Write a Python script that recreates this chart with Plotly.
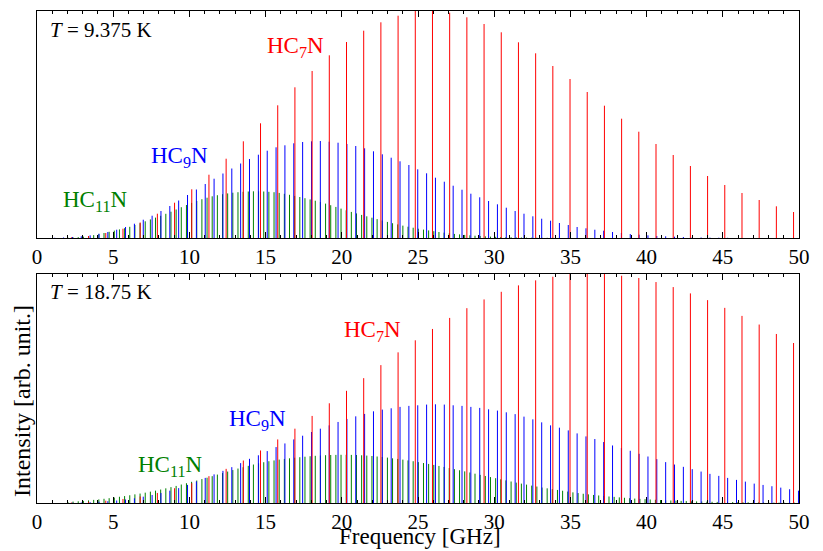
import plotly.graph_objects as go

# ---------------- data (line frequencies in GHz, intensities in arb. units) ----------------
HC7N_freq = [1.128, 2.257, 3.385, 4.513, 5.641, 6.770, 7.898, 9.026, 10.154, 11.283,
             12.411, 13.539, 14.667, 15.796, 16.924, 18.052, 19.180, 20.309, 21.437, 22.565,
             23.693, 24.822, 25.950, 27.078, 28.207, 29.335, 30.463, 31.591, 32.720, 33.848,
             34.976, 36.104, 37.233, 38.361, 39.489, 40.617, 41.746, 42.874, 44.002, 45.130,
             46.259, 47.387, 48.515, 49.643]
HC7N_T1 = [0.1, 0.7, 2.0, 5.0, 9.3, 15.5, 24.3, 35.3, 48.7, 63.3,
           79.3, 96.7, 114.7, 132.7, 150.7, 167.0, 182.7, 196.0, 207.3, 215.7,
           222.3, 228.5, 228.5, 225.3, 220.7, 214.0, 205.7, 195.7, 184.7, 172.0,
           159.0, 146.0, 132.3, 119.3, 106.3, 94.0, 83.0, 72.0, 62.0, 53.0,
           45.0, 38.0, 31.7, 26.0]
HC7N_T2 = [0.1, 0.5, 1.2, 2.3, 4.0, 6.5, 10.0, 14.7, 19.7, 26.7,
           34.0, 42.3, 52.3, 63.3, 74.0, 86.7, 99.3, 111.7, 124.3, 137.3,
           150.0, 162.0, 173.3, 184.3, 194.0, 202.7, 210.3, 216.7, 221.7, 225.3,
           228.5, 230.0, 229.5, 226.3, 224.0, 220.0, 215.0, 208.7, 202.0, 194.3,
           186.3, 177.7, 168.3, 159.3]

HC9N_freq = [0.581, 1.162, 1.743, 2.324, 2.905, 3.486, 4.067, 4.648, 5.229, 5.810,
             6.391, 6.972, 7.553, 8.134, 8.715, 9.296, 9.877, 10.458, 11.039, 11.620,
             12.201, 12.782, 13.363, 13.944, 14.525, 15.106, 15.687, 16.268, 16.849, 17.430,
             18.011, 18.592, 19.173, 19.754, 20.335, 20.916, 21.497, 22.078, 22.659, 23.240,
             23.821, 24.402, 24.983, 25.564, 26.145, 26.726, 27.307, 27.888, 28.469, 29.050,
             29.631, 30.212, 30.793, 31.374, 31.955, 32.536, 33.117, 33.698, 34.279, 34.860,
             35.441, 36.022, 36.603, 37.184, 37.765, 38.346, 38.927, 39.508, 40.089, 40.670,
             41.251, 41.832, 42.413, 42.994, 43.575, 44.156, 44.737, 45.318, 45.899, 46.480,
             47.061, 47.642, 48.223, 48.804, 49.385, 49.966]
HC9N_T1 = [0.1, 0.2, 0.5, 1.0, 1.7, 2.7, 4.3, 6.0, 8.3, 11.0,
           14.3, 18.3, 22.3, 27.0, 32.0, 37.5, 43.0, 48.5, 54.0, 59.3,
           64.5, 69.5, 74.5, 79.0, 83.3, 87.3, 90.7, 92.7, 94.7, 96.0,
           96.7, 97.0, 96.3, 95.3, 94.0, 92.0, 89.7, 86.7, 83.7, 80.3,
           76.7, 73.0, 68.7, 64.7, 60.3, 56.3, 52.3, 48.3, 44.3, 40.7,
           37.0, 33.7, 30.3, 27.0, 24.3, 21.7, 19.3, 17.3, 15.0, 13.0,
           11.0, 9.7, 8.3, 7.3, 6.0, 5.0, 4.0, 3.3, 2.7, 2.0,
           1.7, 1.3, 1.0, 0.7, 0.5, 0.4, 0.3, 0.2, 0.15, 0.1,
           0.1, 0.05, 0.05, 0.05, 0.0, 0.0]
HC9N_T2 = [0.0, 0.05, 0.15, 0.3, 0.5, 0.8, 1.2, 1.8, 2.5, 3.5,
           4.7, 6.3, 8.0, 10.0, 12.3, 14.8, 18.0, 21.5, 25.0, 28.5,
           32.0, 35.7, 39.7, 44.0, 47.5, 51.7, 55.7, 59.3, 63.3, 67.0,
           70.7, 74.0, 77.3, 80.7, 83.7, 86.3, 88.7, 91.3, 93.0, 94.3,
           95.7, 96.7, 97.3, 98.0, 98.3, 98.0, 97.3, 96.7, 95.7, 94.7,
           93.3, 92.0, 90.3, 88.5, 86.0, 83.3, 80.3, 77.3, 75.0, 72.3,
           69.3, 66.3, 63.7, 60.7, 57.3, 54.7, 52.0, 49.0, 46.3, 43.7,
           40.7, 38.3, 36.0, 33.7, 31.3, 29.0, 27.0, 25.0, 23.0, 21.3,
           19.3, 18.0, 16.7, 15.3, 13.7, 12.3]

HC11N_freq = [2.029, 2.367, 2.705, 3.043, 3.381, 3.719, 4.058, 4.396, 4.734, 5.072,
              5.410, 5.748, 6.086, 6.424, 6.763, 7.101, 7.439, 7.777, 8.115, 8.453,
              8.791, 9.130, 9.468, 9.806, 10.144, 10.482, 10.820, 11.158, 11.496, 11.835,
              12.173, 12.511, 12.849, 13.187, 13.525, 13.863, 14.201, 14.540, 14.878, 15.216,
              15.554, 15.892, 16.230, 16.568, 16.906, 17.245, 17.583, 17.921, 18.259, 18.597,
              18.935, 19.273, 19.612, 19.950, 20.288, 20.626, 20.964, 21.302, 21.640, 21.978,
              22.317, 22.655, 22.993, 23.331, 23.669, 24.007, 24.345, 24.683, 25.022, 25.360,
              25.698, 26.036, 26.374, 26.712, 27.050, 27.389, 27.727, 28.065, 28.403, 28.741,
              29.079, 29.417, 29.755, 30.094, 30.432, 30.770, 31.108, 31.446, 31.784, 32.122,
              32.461, 32.799, 33.137, 33.475, 33.813, 34.151, 34.489, 34.827, 35.166, 35.504,
              35.842, 36.180, 36.518, 36.856, 37.194, 37.532, 37.871, 38.209, 38.547, 38.885,
              39.223, 39.561, 39.899, 40.237, 40.576, 40.914, 41.252, 41.590, 41.928, 42.266,
              42.604, 42.943, 43.281, 43.619, 43.957, 44.295, 44.633, 44.971, 45.309, 45.648,
              45.986, 46.324, 46.662, 47.000, 47.338, 47.676, 48.014, 48.353, 48.691, 49.029,
              49.367, 49.705]
# T = 9.375 K: lines above ~34.5 GHz are negligible (not listed)
HC11N_T1 = [0.4, 0.6, 0.9, 1.4, 2.0, 2.9, 3.9, 5.0, 6.2, 7.4,
            8.6, 9.8, 11.2, 13.0, 14.8, 16.7, 18.6, 20.4, 22.2, 24.2,
            26.3, 28.5, 30.8, 33.0, 35.1, 37.0, 38.8, 40.3, 41.7, 42.8,
            43.8, 44.6, 45.3, 45.8, 46.2, 46.5, 46.7, 46.7, 46.5, 46.2,
            45.8, 45.1, 44.2, 43.2, 42.1, 41.0, 39.8, 38.6, 37.3, 35.9,
            34.4, 32.8, 31.1, 29.4, 27.7, 26.1, 24.6, 23.1, 21.7, 20.3,
            18.9, 17.5, 16.1, 14.8, 13.6, 12.4, 11.3, 10.3, 9.3, 8.4,
            7.6, 6.8, 6.0, 5.4, 4.7, 4.1, 3.6, 3.1, 2.7, 2.3,
            2.0, 1.7, 1.4, 1.2, 1.0, 0.9, 0.8, 0.6, 0.5, 0.4,
            0.35, 0.3, 0.25, 0.2, 0.2, 0.15, 0.1]
HC11N_T2 = [1.0, 1.4, 1.7, 2.1, 2.6, 3.1, 3.6, 4.2, 4.8, 5.4,
            6.2, 6.9, 7.7, 8.6, 9.4, 10.3, 11.3, 12.3, 13.4, 14.6,
            15.8, 17.0, 18.4, 19.7, 21.1, 22.4, 23.8, 25.2, 26.7, 28.3,
            29.8, 31.3, 32.8, 34.3, 35.6, 37.0, 38.3, 39.5, 40.6, 41.6,
            42.4, 43.2, 43.9, 44.5, 45.1, 45.6, 46.1, 46.6, 47.0, 47.3,
            47.6, 47.8, 47.9, 48.0, 48.0, 47.9, 47.8, 47.5, 47.2, 46.8,
            46.3, 45.8, 45.2, 44.5, 43.9, 43.2, 42.4, 41.6, 40.7, 39.8,
            38.9, 37.9, 36.9, 35.9, 34.8, 33.7, 32.6, 31.5, 30.4, 29.2,
            28.0, 26.9, 25.8, 24.7, 23.6, 22.5, 21.4, 20.3, 19.3, 18.3,
            17.3, 16.4, 15.4, 14.6, 13.8, 13.0, 12.2, 11.4, 10.6, 9.9,
            9.2, 8.6, 8.0, 7.5, 7.0, 6.5, 6.1, 5.6, 5.2, 4.8,
            4.4, 4.1, 3.8, 3.5, 3.2, 2.9, 2.7, 2.5, 2.3, 2.1,
            1.9, 1.7, 1.6, 1.5, 1.3, 1.2, 1.1, 1.0, 0.95, 0.9,
            0.8, 0.75, 0.7, 0.6, 0.55, 0.5, 0.45, 0.4, 0.38, 0.35,
            0.3, 0.28]

TEMPS = ["<i>T</i> = 9.375 K", "<i>T</i> = 18.75 K"]
X_TICKS = [0, 5, 10, 15, 20, 25, 30, 35, 40, 45, 50]

RED, BLUE, GREEN = "rgb(255,0,0)", "rgb(0,0,255)", "rgb(0,128,0)"
FONT = "Liberation Serif"


def sticks(freqs, vals):
    xs, ys = [], []
    for f, v in zip(freqs, vals):
        xs += [f, f, None]
        ys += [0, v, None]
    return xs, ys


fig = go.Figure()
panels = [
    ("x", "y", HC7N_T1, HC9N_T1, HC11N_T1),
    ("x2", "y2", HC7N_T2, HC9N_T2, HC11N_T2),
]
for xa, ya, s7, s9, s11 in panels:
    for fr, vals, col in [(HC11N_freq, s11, GREEN), (HC9N_freq, s9, BLUE), (HC7N_freq, s7, RED)]:
        xs, ys = sticks(fr, vals)
        fig.add_trace(go.Scatter(x=xs, y=ys, mode="lines", xaxis=xa, yaxis=ya,
                                 line=dict(color=col, width=1), showlegend=False,
                                 hoverinfo="skip"))

xcommon = dict(range=[0, 50], tickvals=X_TICKS, ticktext=[str(v) for v in X_TICKS],
               ticks="inside", ticklen=6, tickwidth=1, tickcolor="black",
               minor=dict(ticks="inside", ticklen=3, dtick=1, tick0=0, tickcolor="black", showgrid=False),
               showline=True, linecolor="black", linewidth=1, mirror="ticks",
               showgrid=False, zeroline=False, automargin=False,
               tickfont=dict(family=FONT, size=21, color="black"))
ycommon = dict(showticklabels=False, ticks="", showline=True, linecolor="black", linewidth=1,
               mirror=True, showgrid=False, zeroline=False, automargin=False)

fig.update_layout(
    width=823, height=551,
    margin=dict(l=37, r=24, t=11, b=48, autoexpand=False),
    paper_bgcolor="white", plot_bgcolor="white",
    xaxis=dict(xcommon, anchor="y", domain=[0, 1]),
    yaxis=dict(ycommon, anchor="x", domain=[0.5386, 1.0], range=[0, 227]),
    xaxis2=dict(xcommon, anchor="y2", domain=[0, 1]),
    yaxis2=dict(ycommon, anchor="x2", domain=[0.0, 0.4654], range=[0, 228]),
    font=dict(family=FONT, color="black"),
)

ann = []
# temperature labels
ann.append(dict(text=TEMPS[0], x=0.72, y=208.5, xref="x", yref="y", xanchor="left", yanchor="middle",
                showarrow=False, font=dict(size=21, color="black", family=FONT)))
ann.append(dict(text=TEMPS[1], x=0.74, y=210.5, xref="x2", yref="y2", xanchor="left", yanchor="middle",
                showarrow=False, font=dict(size=21, color="black", family=FONT)))
# species labels
labels = [
    ("HC<sub>7</sub>N", RED, 16.93, 191, "x", "y"),
    ("HC<sub>9</sub>N", BLUE, 9.38, 81, "x", "y"),
    ("HC<sub>11</sub>N", GREEN, 3.81, 37, "x", "y"),
    ("HC<sub>7</sub>N", RED, 22.01, 171.5, "x2", "y2"),
    ("HC<sub>9</sub>N", BLUE, 14.44, 82.5, "x2", "y2"),
    ("HC<sub>11</sub>N", GREEN, 8.73, 36.5, "x2", "y2"),
]
for t, c, x, y, xr, yr in labels:
    ann.append(dict(text=t, x=x, y=y, xref=xr, yref=yr, xanchor="center", yanchor="middle",
                    showarrow=False, font=dict(size=23, color=c, family=FONT)))
# axis titles
ann.append(dict(text="Frequency [GHz]", x=0.502, y=-0.0675, xref="paper", yref="paper",
                xanchor="center", yanchor="middle", showarrow=False,
                font=dict(size=23, color="black", family=FONT)))
ann.append(dict(text="Intensity [arb. unit.]", x=-0.0197, y=0.2073, xref="paper", yref="paper",
                xanchor="center", yanchor="middle", showarrow=False, textangle=-90,
                font=dict(size=24, color="black", family=FONT)))
fig.update_layout(annotations=ann)

fig.write_html("out.html", config={"displayModeBar": False},
               post_script="document.body.style.margin='0';document.body.style.overflow='hidden';")
